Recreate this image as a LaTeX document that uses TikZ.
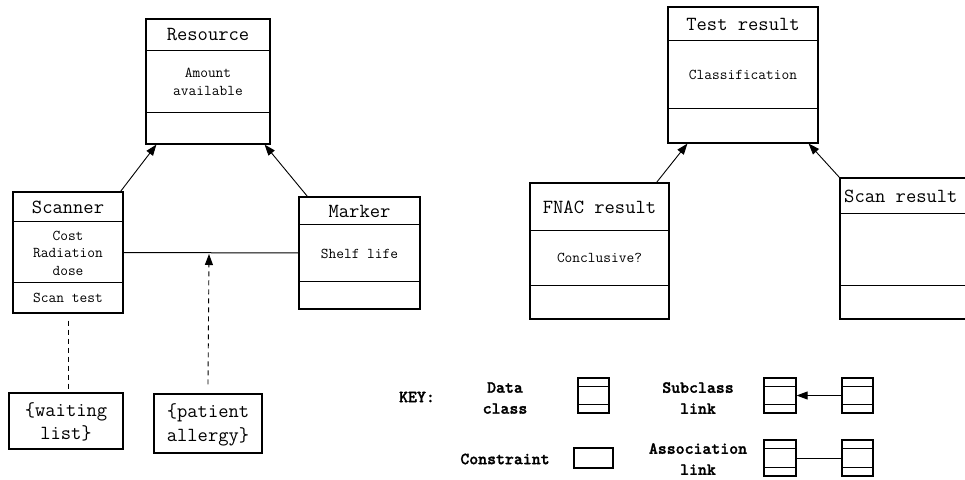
\documentclass[tikz,border=0pt]{standalone}
\usepackage{fontspec}
\newfontfamily\keyfont{lmmonolt10-bold.otf}[FakeBold=1.5]
\usetikzlibrary{arrows.meta}
\tikzset{
	classbox/.style = {draw=black, line width=1.2pt, inner sep=0pt},% box of a data class
	titletext/.style = {font=\ttfamily\fontsize{20}{22}\selectfont, inner sep=0pt},
	attrtext/.style = {font=\ttfamily\fontsize{15}{17.5}\selectfont, align=center,
		inner sep=0pt},
	constext/.style = {font=\ttfamily\fontsize{20}{23.5}\selectfont, align=center,
		inner sep=0pt},
	keytext/.style = {font=\keyfont\fontsize{17}{21}\selectfont, align=center,
		inner sep=0pt},
	divline/.style = {line width=1.2pt},
	sublink/.style = {line width=0.9pt, -{Triangle[length=11pt,width=8pt]}},% subclass link
	assoclink/.style = {line width=1pt},% association link
	conslink/.style = {line width=0.9pt, dash pattern=on 5pt off 4pt}% constraint link
}

\begin{document}
\begin{tikzpicture}[x=1pt,y=-1pt]
	\useasboundingbox (0,0) rectangle (965,479);
	\clip (0,0) rectangle (965,479);
	% left group
	\node[classbox, minimum width=124, minimum height=125] (resource) at (208,81.5) {};
	\draw[divline] ([yshift=-32pt]resource.north west) -- ([yshift=-32pt]resource.north east);
	\draw[divline] ([yshift=-94pt]resource.north west) -- ([yshift=-94pt]resource.north east);
	\node[titletext] (resourcetitle) at (208,35) {Resource};
	\node[attrtext] (resourceattr) at (208,82) {Amount\\available};

	\node[classbox, minimum width=110, minimum height=121] (scanner) at (68,252.5) {};
	\draw[divline] ([yshift=-30pt]scanner.north west) -- ([yshift=-30pt]scanner.north east);
	\draw[divline] ([yshift=-91pt]scanner.north west) -- ([yshift=-91pt]scanner.north east);
	\node[titletext] (scannertitle) at (68,207) {Scanner};
	\node[attrtext] (scannerattr) at (68,253) {Cost\\Radiation\\dose};
	\node[attrtext] (scanneroper) at (68,298) {Scan test};

	\node[classbox, minimum width=121, minimum height=112] (marker) at (359.5,253) {};
	\draw[divline] ([yshift=-28pt]marker.north west) -- ([yshift=-28pt]marker.north east);
	\draw[divline] ([yshift=-85pt]marker.north west) -- ([yshift=-85pt]marker.north east);
	\node[titletext] (markertitle) at (359.5,211) {Marker};
	\node[attrtext] (markerattr) at (359.5,254) {Shelf life};

	\node[classbox, minimum width=114, minimum height=56] (waiting) at (66,421) {};
	\node[constext] (waitingtext) at (66,422) {\{waiting\\list\}};
	\node[classbox, minimum width=108, minimum height=59] (allergy) at (208,423.5) {};
	\node[constext] (allergytext) at (208,425) {\{patient\\allergy\}};

	\draw[sublink] ([xshift=-3pt]scanner.north east) -- ([xshift=11pt]resource.south west);
	\draw[sublink] ([xshift=9pt]marker.north west) -- ([xshift=-6pt]resource.south east);
	\draw[assoclink] (scanner) -- (marker);
	\coordinate (allergyend) at (209,254);
	\draw[conslink, -{Triangle[length=11pt,width=8pt]}] ([yshift=9pt]allergy.north) -- (allergyend);
	\draw[conslink] ([yshift=-7pt]scanner.south) -- (waiting.north -| scanner.south);

	% right group
	\node[classbox, minimum width=150, minimum height=136] (testresult) at (743,75) {};
	\draw[divline] ([yshift=-34pt]testresult.north west) -- ([yshift=-34pt]testresult.north east);
	\draw[divline] ([yshift=-102pt]testresult.north west) -- ([yshift=-102pt]testresult.north east);
	\node[titletext] (testtitle) at (743,24) {Test result};
	\node[attrtext] (testattr) at (743,75) {Classification};

	\node[classbox, minimum width=139, minimum height=136] (fnac) at (599.5,251) {};
	\draw[divline] ([yshift=-48pt]fnac.north west) -- ([yshift=-48pt]fnac.north east);
	\draw[divline] ([yshift=-103pt]fnac.north west) -- ([yshift=-103pt]fnac.north east);
	\node[titletext] (fnactitle) at (599.5,207) {FNAC result};
	\node[attrtext] (fnacattr) at (599.5,258) {Conclusive?};

	\node[classbox, minimum width=140, minimum height=141] (scanresult) at (910,248.5) {};
	\draw[divline] ([yshift=-36pt]scanresult.north west) -- ([yshift=-36pt]scanresult.north east);
	\draw[divline] ([yshift=-108pt]scanresult.north west) -- ([yshift=-108pt]scanresult.north east);
	\node[titletext, anchor=west] (scantitle) at (844,196) {Scan result};

	\draw[sublink] ([xshift=-13pt]fnac.north east) -- ([xshift=20pt]testresult.south west);
	\draw[sublink] (scanresult.north west) -- ([xshift=-10pt]testresult.south east);

	% key
	\node[keytext] (keylabel) at (417,397) {KEY:};
	\node[keytext] (keydata) at (505,398) {Data\\class};
	\node[keytext] (keycons) at (505,459) {Constraint};
	\node[keytext] (keysub) at (698,398) {Subclass\\link};
	\node[keytext] (keyassoc) at (698,459) {Association\\link};

	\node[classbox, minimum width=31, minimum height=35] (datakey) at (593.5,395.5) {};
	\node[classbox, minimum width=39, minimum height=20] (conskey) at (593.5,458) {};
	\node[classbox, minimum width=32, minimum height=35] (subleft) at (780,395.5) {};
	\node[classbox, minimum width=31, minimum height=35] (subright) at (857.5,395.5) {};
	\node[classbox, minimum width=32, minimum height=36] (assocleft) at (780,458) {};
	\node[classbox, minimum width=31, minimum height=36] (assocright) at (857.5,458) {};
	\foreach \k in {datakey,subleft,subright,assocleft,assocright}{
		\draw[divline] ([yshift=-9pt]\k.north west) -- ([yshift=-9pt]\k.north east);
		\draw[divline] ([yshift=9pt]\k.south west) -- ([yshift=9pt]\k.south east);
	}
	\draw[sublink] (subright) -- (subleft);
	\draw[assoclink] (assocleft) -- (assocright);
\end{tikzpicture}
\end{document}
